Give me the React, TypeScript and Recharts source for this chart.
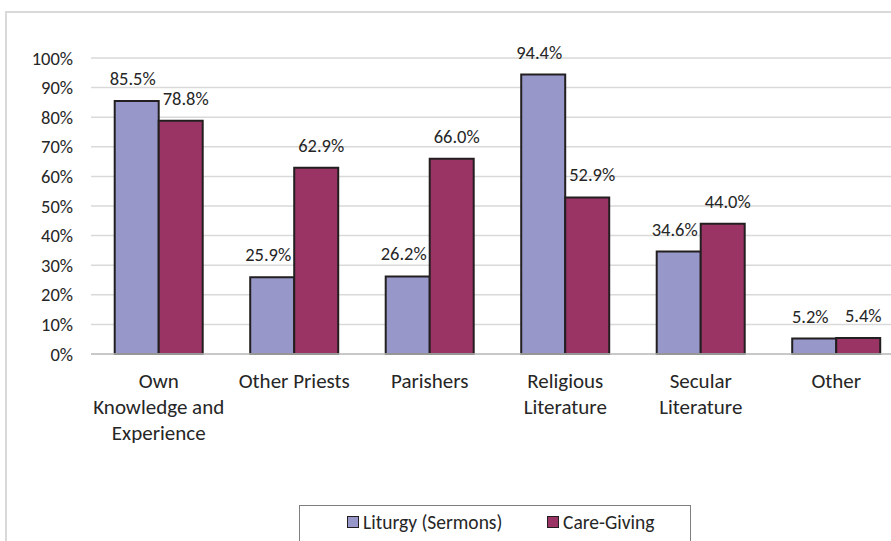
import React from "react";
import {
  BarChart,
  Bar,
  CartesianGrid,
  XAxis,
  YAxis,
  LabelList,
} from "recharts";

const categories = [
  "Own\nKnowledge and\nExperience",
  "Other Priests",
  "Parishers",
  "Religious\nLiterature",
  "Secular\nLiterature",
  "Other",
];

const liturgyValues = [85.5, 25.9, 26.2, 94.4, 34.6, 5.2];
const careGivingValues = [78.8, 62.9, 66.0, 52.9, 44.0, 5.4];

const yTicks = [0, 10, 20, 30, 40, 50, 60, 70, 80, 90, 100];

const seriesNames = ["Liturgy (Sermons)", "Care-Giving"];
const seriesColors = ["#9797CA", "#993465"];

const FONT = "Carlito, Calibri, Lato, sans-serif";
const TEXT = "#262626";

const data = categories.map((category, i) => ({
  category,
  liturgy: liturgyValues[i],
  care: careGivingValues[i],
}));

function CategoryTick(props: any) {
  const { x, y, payload } = props;
  const lines = String(payload.value).split("\n");

  return (
    <text
      x={x}
      y={y + 34}
      textAnchor="middle"
      fill={TEXT}
      fontSize={21}
      fontFamily={FONT}
    >
      {lines.map((line, i) => (
        <tspan key={i} x={x} dy={i === 0 ? 0 : 26}>
          {line}
        </tspan>
      ))}
    </text>
  );
}

// excel nudges the two labels of a pair apart a little
function makeValueLabel(shift: number) {
  return function ValueLabel(props: any) {
    const { x, y, width, value } = props;

    return (
      <text
        x={Number(x) + Number(width) / 2 + shift}
        y={Number(y) - 16}
        textAnchor="middle"
        fill={TEXT}
        fontSize={18.5}
        fontFamily={FONT}
      >
        {`${Number(value).toFixed(1)}%`}
      </text>
    );
  };
}

export default function App() {
  return (
    <div
      style={{
        position: "absolute",
        left: 0,
        top: 0,
        width: 891,
        height: 541,
        overflow: "hidden",
        background: "#fff",
        fontFamily: FONT,
      }}
    >
      <div
        style={{
          position: "absolute",
          left: 5,
          top: 11,
          width: 1000,
          height: 1000,
          border: "2px solid #d9d9d9",
        }}
      />

      <div style={{ position: "absolute", left: 0, top: 0 }}>
        <BarChart
          width={920}
          height={541}
          data={data}
          barGap={0}
          barCategoryGap="17.5%"
          margin={{ top: 58, right: 16, left: 5, bottom: 0 }}
        >
          <CartesianGrid
            vertical={false}
            stroke="#d9d9d9"
            strokeWidth={1.5}
          />

          <XAxis
            dataKey="category"
            height={187}
            interval={0}
            tickSize={0}
            tickMargin={0}
            tick={<CategoryTick />}
            axisLine={{ stroke: "#bfbfbf", strokeWidth: 1.5 }}
            tickLine={false}
          />

          <YAxis
            width={86}
            domain={[0, 100]}
            ticks={yTicks}
            tickFormatter={(v) => `${v}%`}
            tickSize={0}
            tickMargin={18}
            axisLine={false}
            tickLine={false}
            tick={{
              fontSize: 18.5,
              fill: TEXT,
              fontFamily: FONT,
            }}
          />

          <Bar
            dataKey="liturgy"
            name={seriesNames[0]}
            fill={seriesColors[0]}
            stroke="#231f20"
            strokeWidth={2}
            isAnimationActive={false}
          >
            <LabelList dataKey="liturgy" content={makeValueLabel(-4)} />
          </Bar>

          <Bar
            dataKey="care"
            name={seriesNames[1]}
            fill={seriesColors[1]}
            stroke="#231f20"
            strokeWidth={2}
            isAnimationActive={false}
          >
            <LabelList dataKey="care" content={makeValueLabel(5)} />
          </Bar>
        </BarChart>
      </div>

      <div
        style={{
          position: "absolute",
          left: 299,
          top: 505,
          width: 392,
          height: 60,
          border: "1px solid #7f7f7f",
          boxSizing: "border-box",
        }}
      >
        {seriesNames.map((name, i) => (
          <div
            key={name}
            style={{
              position: "absolute",
              left: i === 0 ? 47 : 247,
              top: 4,
              display: "flex",
              alignItems: "center",
              fontSize: 19.5,
              color: TEXT,
              whiteSpace: "nowrap",
            }}
          >
            <span
              style={{
                display: "inline-block",
                width: 10,
                height: 10,
                background: seriesColors[i],
                border: "1.5px solid #231f20",
                marginRight: 4,
              }}
            />
            {name}
          </div>
        ))}
      </div>
    </div>
  );
}
